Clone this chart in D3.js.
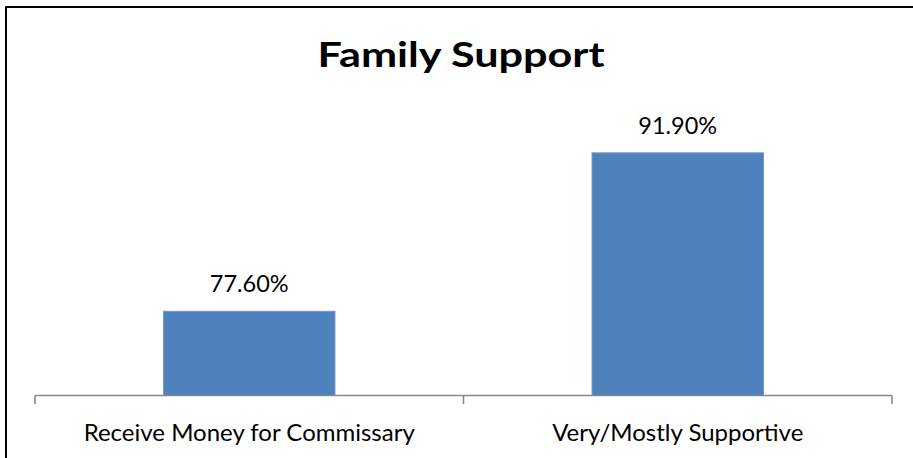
<!DOCTYPE html>
<html>
<head>
<meta charset="utf-8">
<script src="https://cdn.jsdelivr.net/npm/d3@7"></script>
<style>
  html, body { margin: 0; padding: 0; background: #fff; }
  svg { display: block; }
</style>
</head>
<body>
<svg id="chart" width="913" height="458"></svg>
<script>
// Chart data
const title = "Family Support";
const categories = ["Receive Money for Commissary", "Very/Mostly Supportive"];
const values = [77.6, 91.9];
const yDomain = [70, 100];

const W = 913, H = 458;
const svg = d3.select("#chart");
const font = "Lato, 'Open Sans', sans-serif";

// Outer frame (only the top and left edges fall inside the view)
svg.append("rect")
  .attr("x", 6).attr("y", 7)
  .attr("width", W + 10).attr("height", H + 10)
  .attr("fill", "#fff")
  .attr("stroke", "#000")
  .attr("stroke-width", 2);

const plot = { left: 35, right: 892, top: 63.1, bottom: 395.5 };

const x = d3.scaleBand()
  .domain(categories)
  .range([plot.left, plot.right])
  .padding(0);

const y = d3.scaleLinear()
  .domain(yDomain)
  .range([plot.bottom, plot.top]);

const barW = x.bandwidth() * 0.4;

// Bars
svg.append("g").selectAll("rect")
  .data(categories)
  .join("rect")
  .attr("x", d => x(d) + (x.bandwidth() - barW) / 2)
  .attr("y", (d, i) => y(values[i]))
  .attr("width", barW)
  .attr("height", (d, i) => y(yDomain[0]) - y(values[i]))
  .attr("fill", "#4F81BD")
  .attr("stroke", "#6E97CB")
  .attr("stroke-width", 1);

// Category axis with tick marks at band boundaries
const axis = svg.append("g").attr("transform", `translate(0,${plot.bottom})`);
axis.append("line")
  .attr("x1", plot.left).attr("x2", plot.right)
  .attr("stroke", "#888").attr("stroke-width", 1.6);
const boundaries = categories.map(d => x(d)).concat([plot.right]);
axis.selectAll("line.tick")
  .data(boundaries)
  .join("line")
  .attr("class", "tick")
  .attr("x1", d => d).attr("x2", d => d)
  .attr("y1", 0).attr("y2", 8.5)
  .attr("stroke", "#888").attr("stroke-width", 1.6);

axis.selectAll("text")
  .data(categories)
  .join("text")
  .attr("x", d => x(d) + x.bandwidth() / 2)
  .attr("y", 45)
  .attr("text-anchor", "middle")
  .attr("font-family", font)
  .attr("font-size", 24)
  .attr("fill", "#000")
  .text(d => d);

// Value labels
const fmt = d => d3.format(".2f")(d) + "%";
svg.append("g").selectAll("text")
  .data(categories)
  .join("text")
  .attr("x", d => x(d) + x.bandwidth() / 2)
  .attr("y", (d, i) => y(values[i]) - 19)
  .attr("text-anchor", "middle")
  .attr("font-family", font)
  .attr("font-size", 23.5)
  .attr("fill", "#000")
  .text((d, i) => fmt(values[i]));

// Title
svg.append("text")
  .attr("x", 461)
  .attr("y", 67)
  .attr("text-anchor", "middle")
  .attr("font-family", font)
  .attr("font-weight", "bold")
  .attr("font-size", 35)
  .attr("textLength", 287)
  .attr("lengthAdjust", "spacingAndGlyphs")
  .attr("fill", "#000")
  .text(title);
</script>
</body>
</html>
